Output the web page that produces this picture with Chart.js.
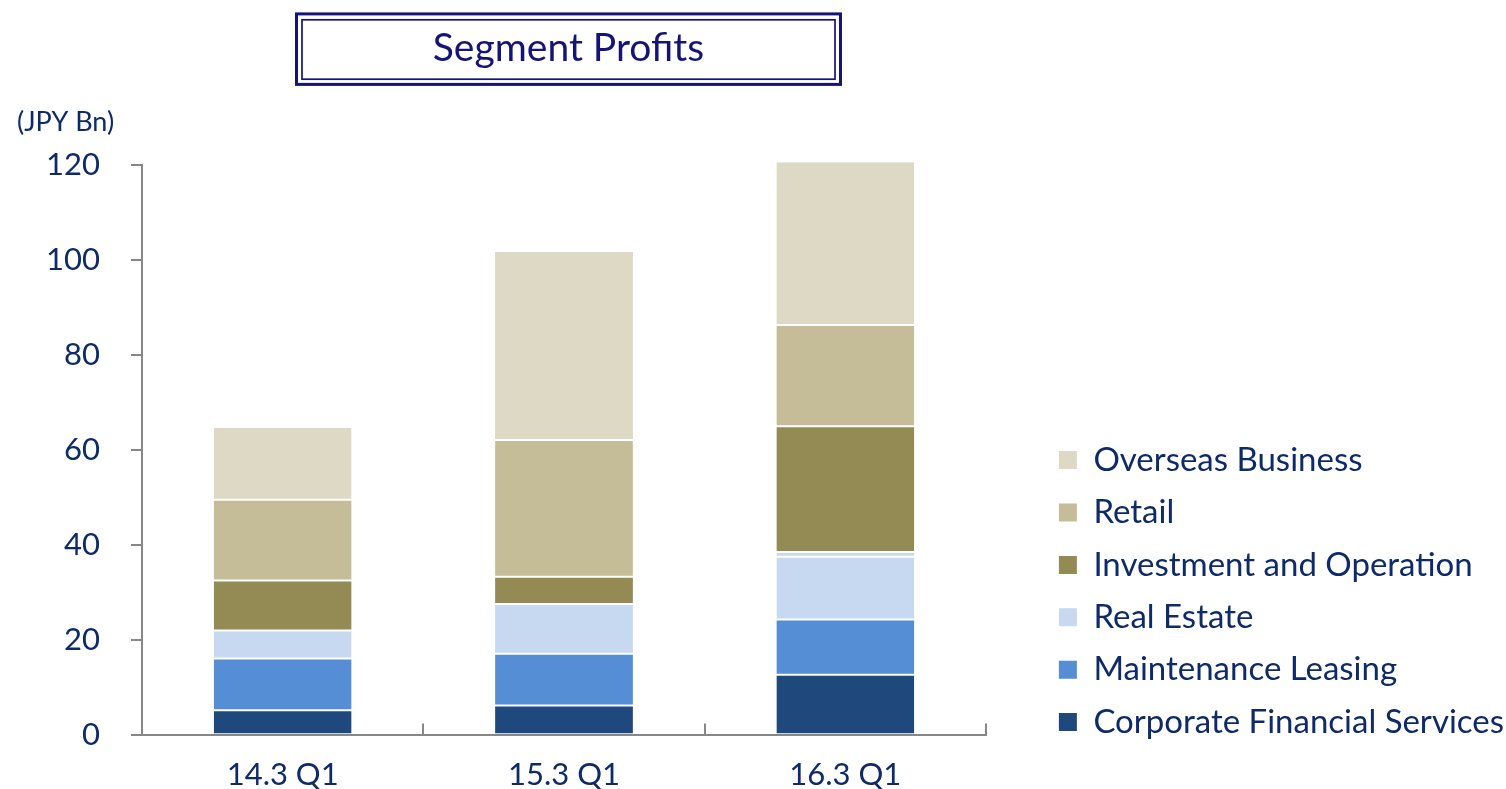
<!DOCTYPE html>
<html>
<head>
<meta charset="utf-8">
<script src="https://cdn.jsdelivr.net/npm/chart.js@4"></script>
<style>
  html, body { margin: 0; padding: 0; background: #ffffff; }
  #wrap { width: 1506px; height: 789px; }
</style>
</head>
<body>
<div id="wrap"><canvas id="c" width="1506" height="789"></canvas></div>
<script>
// ---- data (JPY Bn) ----
const categories = ['14.3 Q1', '15.3 Q1', '16.3 Q1'];
const corporateFinancialServices = [5.1, 6.1, 12.6];
const maintenanceLeasing = [10.9, 10.9, 11.6];
const realEstate = [5.9, 10.5, 13.2];
const realEstateOther = [null, null, 1.0];
const investmentAndOperation = [10.5, 5.7, 26.5];
const retail = [17.0, 28.8, 21.3];
const overseasBusiness = [15.2, 39.6, 34.3];
const yTickValues = [0, 20, 40, 60, 80, 100, 120];
const chartTitle = 'Segment Profits';
const unitLabel = '(JPY Bn)';

const TEXT = '#0E2A6A';
const NAVY = '#141478';
const AXIS = '#878787';
const FONT = 'Lato, "Open Sans", sans-serif';
const PLOT_RIGHT = 986;
const PAD_RIGHT = -8;

function seg(label, data, color, extra) {
  return Object.assign({
    label, data, backgroundColor: color,
    borderColor: '#ffffff',
    borderWidth: { top: 1, bottom: 1, left: 0, right: 0 },
    borderSkipped: false,
    barPercentage: 0.49, categoryPercentage: 1.0,
    clip: false
  }, extra || {});
}

const decorations = {
  id: 'decorations',
  afterDraw(chart) {
    const ctx = chart.ctx;
    ctx.save();
    ctx.strokeStyle = NAVY;
    ctx.lineWidth = 3;
    ctx.strokeRect(296.5, 13.9, 544, 70.5);
    ctx.lineWidth = 1.7;
    ctx.strokeRect(302, 19.8, 533, 59.4);
    ctx.fillStyle = NAVY;
    ctx.font = '39px ' + FONT;
    ctx.textAlign = 'center';
    ctx.textBaseline = 'alphabetic';
    ctx.fillText(chartTitle, 568.5, 61);
    ctx.fillStyle = TEXT;
    ctx.font = '27px ' + FONT;
    ctx.textAlign = 'left';
    ctx.fillText(unitLabel, 17, 131);
    ctx.restore();
  }
};

new Chart(document.getElementById('c'), {
  type: 'bar',
  data: {
    labels: categories,
    datasets: [
      seg('Corporate Financial Services', corporateFinancialServices, '#1F497D', { borderWidth: { top: 1, bottom: 0, left: 0, right: 0 } }),
      seg('Maintenance Leasing', maintenanceLeasing, '#558ED5'),
      seg('Real Estate', realEstate, '#C6D9F1'),
      seg('Real Estate (other)', realEstateOther, '#C6D9F1'),
      seg('Investment and Operation', investmentAndOperation, '#948A54'),
      seg('Retail', retail, '#C4BD97'),
      seg('Overseas Business', overseasBusiness, '#DDD9C4', { borderWidth: { top: 0, bottom: 1, left: 0, right: 0 } })
    ]
  },
  options: {
    responsive: false,
    animation: false,
    devicePixelRatio: 1,
    layout: { padding: { top: 164.5, right: PAD_RIGHT, bottom: 0, left: 0 } },
    plugins: {
      title: { display: false },
      tooltip: { enabled: false },
      legend: {
        display: true,
        position: 'right',
        align: 'start',
        fullSize: true,
        reverse: true,
        maxWidth: 900,
        title: { display: true, text: ' ', font: { size: 10 }, padding: { top: 247.7, bottom: 0 } },
        labels: {
          boxWidth: 18,
          boxHeight: 18,
          padding: 19.4,
          color: TEXT,
          font: { family: FONT, size: 33 },
          filter: (item) => item.text !== 'Real Estate (other)',
          generateLabels: (chart) => Chart.defaults.plugins.legend.labels.generateLabels(chart)
            .map(l => Object.assign(l, { lineWidth: 0, strokeStyle: 'rgba(0,0,0,0)' }))
        }
      }
    },
    scales: {
      x: {
        stacked: true,
        offset: true,
        grid: {
          display: true, drawOnChartArea: false, drawTicks: true,
          tickLength: -11, color: AXIS, lineWidth: 2, offset: true
        },
        border: { display: true, color: AXIS, width: 2 },
        ticks: { color: TEXT, font: { family: FONT, size: 31 }, padding: 33, maxRotation: 0 },
        afterFit: (s) => { s.height = 54.5; }
      },
      y: {
        stacked: true,
        min: 0, max: 120,
        afterBuildTicks: (s) => { s.ticks = yTickValues.map(v => ({ value: v })); },
        grid: {
          display: true, drawOnChartArea: false, drawTicks: true,
          tickLength: 11, color: AXIS, lineWidth: 2
        },
        border: { display: true, color: AXIS, width: 2 },
        ticks: { color: TEXT, font: { family: FONT, size: 31 }, padding: 31 },
        afterFit: (s) => { s.width = 142; }
      },
      gap: {
        type: 'linear',
        position: 'right',
        display: true,
        grid: { display: false, drawTicks: false },
        border: { display: false },
        ticks: { display: false },
        afterFit: (s) => {
          const lw = (s.chart.legend && s.chart.legend.width) || 470;
          s.width = Math.max(0, 1506 - PAD_RIGHT - lw - PLOT_RIGHT);
        }
      }
    }
  },
  plugins: [decorations]
});
</script>
</body>
</html>
